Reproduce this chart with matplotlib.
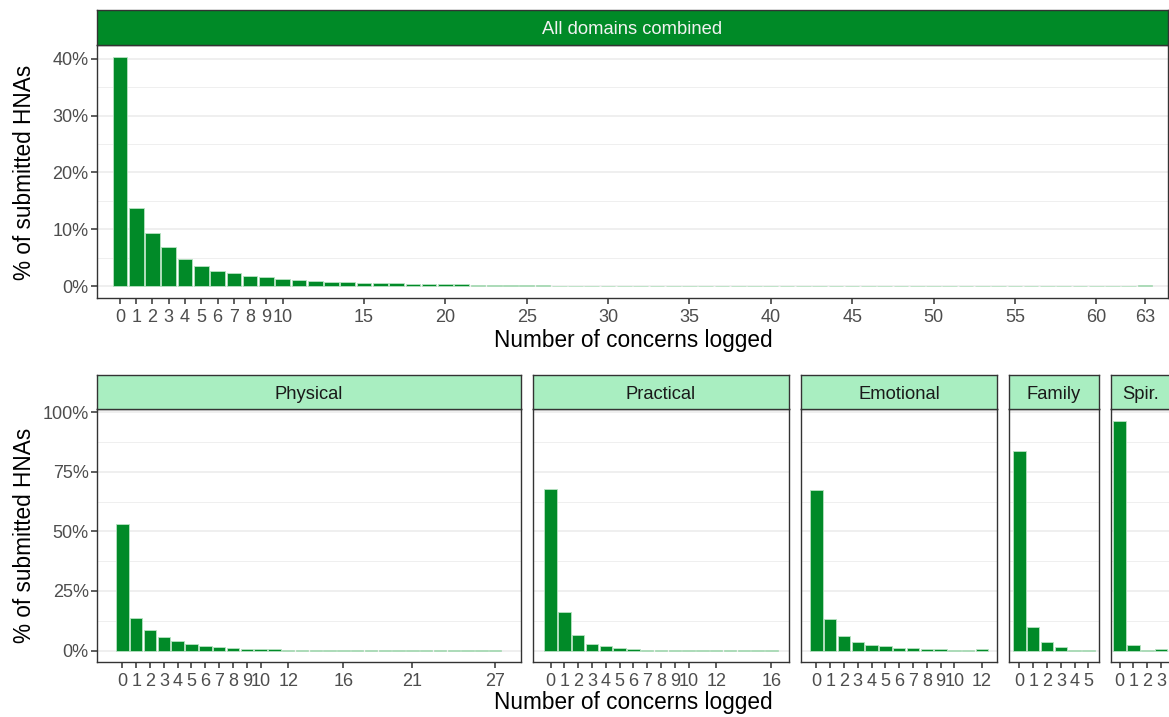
import matplotlib
matplotlib.use("Agg")
import matplotlib.pyplot as plt
from matplotlib.ticker import FixedLocator, PercentFormatter

plt.rcParams['font.family'] = ['Liberation Sans', 'DejaVu Sans']

# ---- data (percent of submitted HNAs by number of concerns logged) ----
all_counts = list(range(64))
all_pct = [40.35, 13.74, 9.30, 6.96, 4.85, 3.57, 2.63, 2.28, 1.87, 1.64,
           1.40, 1.17, 0.94, 0.82, 0.82, 0.64, 0.58, 0.53, 0.47, 0.41,
           0.41, 0.35, 0.30, 0.25, 0.22, 0.20, 0.18, 0.16, 0.14, 0.13,
           0.12, 0.13, 0.10, 0.09, 0.08, 0.07, 0.06, 0.06, 0.05, 0.05,
           0.04, 0.04, 0.03, 0.03, 0.03, 0.02, 0.02, 0.02, 0.02, 0.02,
           0.01, 0.01, 0.01, 0.01, 0.01, 0.01, 0.01, 0.01, 0.01, 0.01,
           0.01, 0.01, 0.00, 0.25]
all_ticks = [0, 1, 2, 3, 4, 5, 6, 7, 8, 9, 10, 15, 20, 25, 30, 35, 40, 45,
             50, 55, 60, 63]

domains = ["Physical", "Practical", "Emotional", "Family", "Spir."]
physical_pct = [53.3, 13.6, 8.5, 5.7, 4.1, 2.9, 2.1, 1.5, 1.1, 0.7, 0.6,
                0.45, 0.3, 0.25, 0.2, 0.15, 0.12, 0.1, 0.08, 0.06, 0.05,
                0.04, 0.03, 0.03, 0.02, 0.02, 0.02, 0.35]
practical_pct = [67.8, 16.2, 6.7, 2.9, 1.7, 1.0, 0.56, 0.35, 0.3, 0.25,
                 0.2, 0.1, 0.08, 0.06, 0.05, 0.04, 0.4]
emotional_pct = [67.3, 13.1, 6.2, 3.6, 2.4, 1.7, 1.1, 0.85, 0.65, 0.45,
                 0.4, 0.35, 0.8]
family_pct = [84.0, 9.8, 3.6, 1.3, 0.35, 0.4]
spir_pct = [96.6, 2.2, 0.25, 0.45]
domain_pct = [physical_pct, practical_pct, emotional_pct, family_pct, spir_pct]
domain_ticks = [
    [0, 1, 2, 3, 4, 5, 6, 7, 8, 9, 10, 12, 16, 21, 27],
    [0, 1, 2, 3, 4, 5, 6, 7, 8, 9, 10, 12, 16],
    [0, 1, 2, 3, 4, 5, 6, 7, 8, 9, 10, 12],
    [0, 1, 2, 3, 4, 5],
    [0, 1, 2, 3],
]

# ---- style ----
W, H = 1169, 717
BAR = "#018A28"
BAR_EDGE = "#B8E2C2"
STRIP_TOP = "#008A27"
STRIP_BOTTOM = "#A9EEC1"
BORDER = "#333333"
GRID = "#EBEBEB"
TICKTXT = "#4D4D4D"
TICK_FS = 13
STRIP_FS = 13.2
TITLE_FS = 16.3

fig = plt.figure(figsize=(W / 100, H / 100), dpi=100)


def px_axes(left, top, right, bottom):
    return fig.add_axes([left / W, 1 - bottom / H, (right - left) / W,
                         (bottom - top) / H])


def style_panel(ax, xlim, ylim, xticks, yticks, yminor, show_y):
    ax.set_xlim(*xlim)
    ax.set_ylim(*ylim)
    ax.set_xticks(xticks)
    ax.set_xticklabels([str(t) for t in xticks])
    ax.yaxis.set_major_locator(FixedLocator(yticks))
    ax.yaxis.set_minor_locator(FixedLocator(yminor))
    ax.yaxis.set_major_formatter(PercentFormatter(decimals=0))
    ax.grid(which='major', axis='y', color=GRID, lw=1.1, zorder=0)
    ax.grid(which='minor', axis='y', color=GRID, lw=0.55, zorder=0)
    ax.set_axisbelow(True)
    ax.tick_params(axis='both', which='major', length=4, width=1.1,
                   color=BORDER, labelcolor=TICKTXT, labelsize=TICK_FS, pad=2)
    ax.tick_params(axis='x', which='major', pad=4)
    ax.tick_params(axis='y', which='minor', length=0)
    if not show_y:
        ax.tick_params(axis='y', which='both', left=False, labelleft=False)
    for s in ax.spines.values():
        s.set_color(BORDER)
        s.set_linewidth(1.0)


def strip(left, top, right, bottom, label, face, txtcolor):
    sa = px_axes(left, top, right, bottom)
    sa.set_facecolor(face)
    sa.set_xticks([])
    sa.set_yticks([])
    for s in sa.spines.values():
        s.set_color(BORDER)
        s.set_linewidth(1.0)
    sa.text(0.5, 0.44, label, ha='center', va='center', fontsize=STRIP_FS,
            color=txtcolor, transform=sa.transAxes)


# ---- top panel: all domains combined ----
ax = px_axes(97, 45, 1168, 298)
ax.bar(all_counts, all_pct, width=0.9, color=BAR, edgecolor=BAR_EDGE,
       linewidth=0.6, zorder=2)
style_panel(ax, (-1.41, 64.41), (-2.02, 42.37), all_ticks,
            [0, 10, 20, 30, 40], [5, 15, 25, 35], True)
strip(97, 10, 1168, 45, "All domains combined", STRIP_TOP, "#F2F2F2")
fig.text(25 / W, 1 - 172 / H, "% of submitted HNAs", rotation=90,
         ha='center', va='center', fontsize=TITLE_FS)
fig.text(633 / W, 1 - 340 / H, "Number of concerns logged", ha='center',
         va='center', fontsize=TITLE_FS)

# ---- bottom panels: one per domain, widths follow the x range ----
gap = 12
left0, right_all = 97, 1170
spans = [(len(p) - 1 + 0.9) * 1.1 for p in domain_pct]
unit = (right_all - left0 - gap * (len(spans) - 1)) / sum(spans)
left = left0
for i, (name, pct, ticks) in enumerate(zip(domains, domain_pct,
                                           domain_ticks)):
    n = len(pct) - 1
    pad = 0.45 + 0.05 * (n + 0.9)
    width = spans[i] * unit
    ax = px_axes(left, 409, left + width, 662)
    ax.bar(range(len(pct)), pct, width=0.9, color=BAR, edgecolor=BAR_EDGE,
           linewidth=0.6, zorder=2)
    style_panel(ax, (-pad, n + pad), (-4.83, 101.43), ticks,
                [0, 25, 50, 75, 100], [12.5, 37.5, 62.5, 87.5], i == 0)
    strip(left, 375, left + width, 409, name, STRIP_BOTTOM, "#1A1A1A")
    left += width + gap

fig.text(25 / W, 1 - 535 / H, "% of submitted HNAs", rotation=90,
         ha='center', va='center', fontsize=TITLE_FS)
fig.text(633 / W, 1 - 703 / H, "Number of concerns logged", ha='center',
         va='center', fontsize=TITLE_FS)

fig.savefig("out.png", dpi=100, facecolor="white")
